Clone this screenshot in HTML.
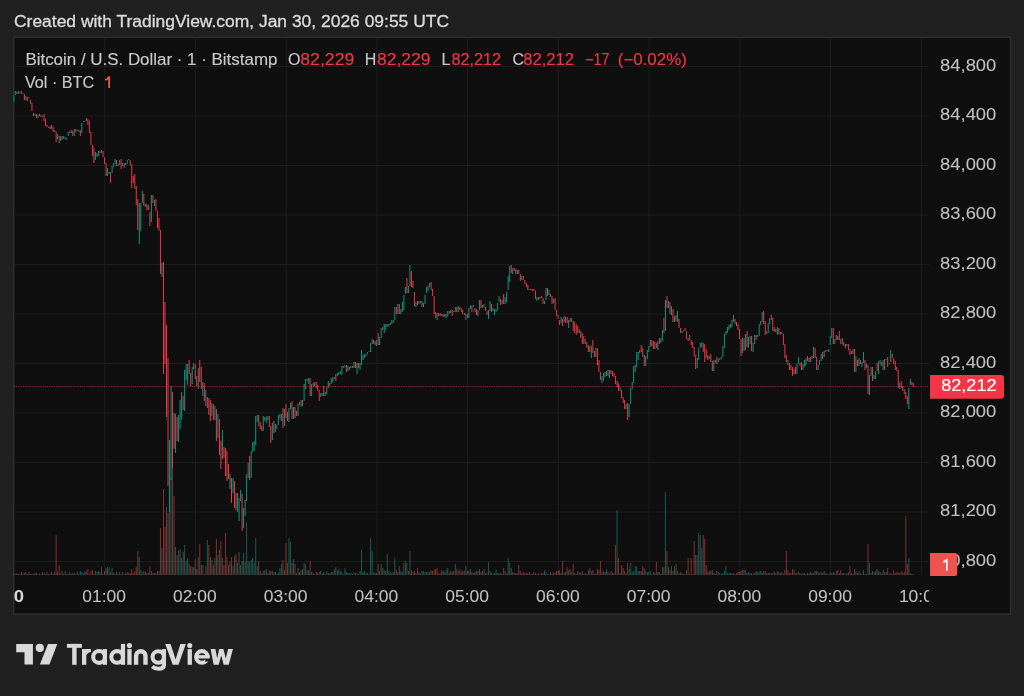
<!DOCTYPE html><html><head><meta charset="utf-8"><style>html,body{margin:0;padding:0;background:#202020;width:1024px;height:696px;overflow:hidden}svg{display:block;will-change:transform}</style></head><body><svg width="1024" height="696" viewBox="0 0 1024 696"><rect x="0" y="0" width="1024" height="696" fill="#202020"/><rect x="13.75" y="37.3" width="996.8" height="576.8" fill="#0f0f0f" stroke="#2e2e2e" stroke-width="1.5"/><defs><clipPath id="pane"><rect x="13.2" y="38" width="915.8" height="537"/></clipPath><clipPath id="taxis"><rect x="14" y="575" width="915" height="38"/></clipPath></defs><g stroke="#1d1d1d" stroke-width="1"><line x1="14" x2="929" y1="66.5" y2="66.5"/><line x1="14" x2="929" y1="116.0" y2="116.0"/><line x1="14" x2="929" y1="165.5" y2="165.5"/><line x1="14" x2="929" y1="215.0" y2="215.0"/><line x1="14" x2="929" y1="264.5" y2="264.5"/><line x1="14" x2="929" y1="314.0" y2="314.0"/><line x1="14" x2="929" y1="363.5" y2="363.5"/><line x1="14" x2="929" y1="413.0" y2="413.0"/><line x1="14" x2="929" y1="462.5" y2="462.5"/><line x1="14" x2="929" y1="512.0" y2="512.0"/><line x1="14" x2="929" y1="561.5" y2="561.5"/><line x1="104.7" x2="104.7" y1="38" y2="575"/><line x1="195.43" x2="195.43" y1="38" y2="575"/><line x1="286.16" x2="286.16" y1="38" y2="575"/><line x1="376.89" x2="376.89" y1="38" y2="575"/><line x1="467.62" x2="467.62" y1="38" y2="575"/><line x1="558.35" x2="558.35" y1="38" y2="575"/><line x1="649.08" x2="649.08" y1="38" y2="575"/><line x1="739.81" x2="739.81" y1="38" y2="575"/><line x1="830.54" x2="830.54" y1="38" y2="575"/><line x1="921.27" x2="921.27" y1="38" y2="575"/></g><g clip-path="url(#pane)"><g fill="rgba(38,166,154,0.5)"><rect x="13.3" y="573" width="1" height="2"/><rect x="14.81" y="574" width="1" height="1"/><rect x="17.84" y="574" width="1" height="1"/><rect x="19.35" y="574" width="1" height="1"/><rect x="22.37" y="574" width="1" height="1"/><rect x="26.91" y="574" width="1" height="1"/><rect x="34.47" y="573" width="1" height="2"/><rect x="37.49" y="574" width="1" height="1"/><rect x="42.03" y="572" width="1" height="3"/><rect x="48.07" y="574" width="1" height="1"/><rect x="54.12" y="572" width="1" height="3"/><rect x="61.68" y="571" width="1" height="4"/><rect x="63.19" y="574" width="1" height="1"/><rect x="66.22" y="574" width="1" height="1"/><rect x="67.73" y="574" width="1" height="1"/><rect x="69.24" y="572" width="1" height="3"/><rect x="73.78" y="573" width="1" height="2"/><rect x="75.29" y="574" width="1" height="1"/><rect x="79.82" y="571" width="1" height="4"/><rect x="81.34" y="572" width="1" height="3"/><rect x="82.85" y="573" width="1" height="2"/><rect x="84.36" y="571" width="1" height="4"/><rect x="94.94" y="571" width="1" height="4"/><rect x="96.45" y="572" width="1" height="3"/><rect x="97.97" y="571" width="1" height="4"/><rect x="100.99" y="567" width="1" height="8"/><rect x="107.04" y="567" width="1" height="8"/><rect x="108.55" y="567" width="1" height="8"/><rect x="111.57" y="568" width="1" height="7"/><rect x="113.09" y="573" width="1" height="2"/><rect x="114.6" y="574" width="1" height="1"/><rect x="117.62" y="574" width="1" height="1"/><rect x="119.13" y="572" width="1" height="3"/><rect x="123.67" y="574" width="1" height="1"/><rect x="126.69" y="572" width="1" height="3"/><rect x="138.79" y="557" width="1" height="18"/><rect x="140.3" y="570" width="1" height="5"/><rect x="141.81" y="572" width="1" height="3"/><rect x="144.84" y="572" width="1" height="3"/><rect x="150.88" y="571" width="1" height="4"/><rect x="153.91" y="573" width="1" height="2"/><rect x="161.47" y="548" width="1" height="27"/><rect x="169.03" y="500" width="1" height="75"/><rect x="170.54" y="477" width="1" height="98"/><rect x="175.07" y="547" width="1" height="28"/><rect x="178.1" y="551" width="1" height="24"/><rect x="179.61" y="549" width="1" height="26"/><rect x="181.12" y="558" width="1" height="17"/><rect x="184.14" y="545" width="1" height="30"/><rect x="185.66" y="561" width="1" height="14"/><rect x="187.17" y="558" width="1" height="17"/><rect x="191.7" y="567" width="1" height="8"/><rect x="193.22" y="567" width="1" height="8"/><rect x="197.75" y="557" width="1" height="18"/><rect x="202.29" y="565" width="1" height="10"/><rect x="206.82" y="540" width="1" height="35"/><rect x="211.36" y="560" width="1" height="15"/><rect x="214.38" y="558" width="1" height="17"/><rect x="217.41" y="555" width="1" height="20"/><rect x="221.94" y="558" width="1" height="17"/><rect x="229.5" y="562" width="1" height="13"/><rect x="232.53" y="566" width="1" height="9"/><rect x="237.06" y="563" width="1" height="12"/><rect x="238.57" y="552" width="1" height="23"/><rect x="240.09" y="565" width="1" height="10"/><rect x="243.11" y="553" width="1" height="22"/><rect x="244.62" y="562" width="1" height="13"/><rect x="246.13" y="522" width="1" height="53"/><rect x="247.64" y="561" width="1" height="14"/><rect x="250.67" y="560" width="1" height="15"/><rect x="252.18" y="558" width="1" height="17"/><rect x="253.69" y="563" width="1" height="12"/><rect x="255.2" y="538" width="1" height="37"/><rect x="256.72" y="566" width="1" height="9"/><rect x="262.76" y="571" width="1" height="4"/><rect x="264.28" y="570" width="1" height="5"/><rect x="265.79" y="569" width="1" height="6"/><rect x="267.3" y="573" width="1" height="2"/><rect x="271.83" y="571" width="1" height="4"/><rect x="274.86" y="572" width="1" height="3"/><rect x="276.37" y="574" width="1" height="1"/><rect x="277.88" y="573" width="1" height="2"/><rect x="279.39" y="568" width="1" height="7"/><rect x="280.91" y="564" width="1" height="11"/><rect x="283.93" y="570" width="1" height="5"/><rect x="288.47" y="538" width="1" height="37"/><rect x="289.98" y="542" width="1" height="33"/><rect x="293.0" y="559" width="1" height="16"/><rect x="297.54" y="568" width="1" height="7"/><rect x="300.56" y="570" width="1" height="5"/><rect x="303.58" y="563" width="1" height="12"/><rect x="305.1" y="564" width="1" height="11"/><rect x="308.12" y="570" width="1" height="5"/><rect x="311.14" y="572" width="1" height="3"/><rect x="312.66" y="573" width="1" height="2"/><rect x="320.22" y="571" width="1" height="4"/><rect x="321.73" y="573" width="1" height="2"/><rect x="324.75" y="574" width="1" height="1"/><rect x="326.26" y="571" width="1" height="4"/><rect x="327.78" y="573" width="1" height="2"/><rect x="330.8" y="572" width="1" height="3"/><rect x="332.31" y="572" width="1" height="3"/><rect x="333.82" y="569" width="1" height="6"/><rect x="336.85" y="571" width="1" height="4"/><rect x="338.36" y="569" width="1" height="6"/><rect x="339.87" y="571" width="1" height="4"/><rect x="341.38" y="572" width="1" height="3"/><rect x="342.89" y="574" width="1" height="1"/><rect x="344.41" y="568" width="1" height="7"/><rect x="345.92" y="572" width="1" height="3"/><rect x="348.94" y="573" width="1" height="2"/><rect x="350.45" y="573" width="1" height="2"/><rect x="353.48" y="572" width="1" height="3"/><rect x="356.5" y="573" width="1" height="2"/><rect x="359.53" y="571" width="1" height="4"/><rect x="361.04" y="550" width="1" height="25"/><rect x="362.55" y="572" width="1" height="3"/><rect x="364.06" y="571" width="1" height="4"/><rect x="365.57" y="573" width="1" height="2"/><rect x="367.08" y="573" width="1" height="2"/><rect x="368.6" y="574" width="1" height="1"/><rect x="370.11" y="538" width="1" height="37"/><rect x="371.62" y="551" width="1" height="24"/><rect x="373.13" y="572" width="1" height="3"/><rect x="376.16" y="573" width="1" height="2"/><rect x="379.18" y="571" width="1" height="4"/><rect x="380.69" y="564" width="1" height="11"/><rect x="383.72" y="570" width="1" height="5"/><rect x="385.23" y="571" width="1" height="4"/><rect x="386.74" y="554" width="1" height="21"/><rect x="388.25" y="571" width="1" height="4"/><rect x="391.28" y="573" width="1" height="2"/><rect x="392.79" y="572" width="1" height="3"/><rect x="394.3" y="558" width="1" height="17"/><rect x="397.32" y="572" width="1" height="3"/><rect x="400.35" y="571" width="1" height="4"/><rect x="401.86" y="572" width="1" height="3"/><rect x="403.37" y="563" width="1" height="12"/><rect x="404.88" y="561" width="1" height="14"/><rect x="407.91" y="571" width="1" height="4"/><rect x="409.42" y="551" width="1" height="24"/><rect x="415.47" y="573" width="1" height="2"/><rect x="418.49" y="572" width="1" height="3"/><rect x="420.0" y="573" width="1" height="2"/><rect x="423.02" y="571" width="1" height="4"/><rect x="424.54" y="572" width="1" height="3"/><rect x="426.05" y="572" width="1" height="3"/><rect x="427.56" y="572" width="1" height="3"/><rect x="429.07" y="572" width="1" height="3"/><rect x="438.14" y="573" width="1" height="2"/><rect x="444.19" y="572" width="1" height="3"/><rect x="445.7" y="570" width="1" height="5"/><rect x="447.22" y="568" width="1" height="7"/><rect x="450.24" y="571" width="1" height="4"/><rect x="454.77" y="564" width="1" height="11"/><rect x="457.8" y="571" width="1" height="4"/><rect x="465.36" y="566" width="1" height="9"/><rect x="468.38" y="571" width="1" height="4"/><rect x="469.89" y="569" width="1" height="6"/><rect x="472.92" y="573" width="1" height="2"/><rect x="475.94" y="571" width="1" height="4"/><rect x="478.97" y="569" width="1" height="6"/><rect x="483.5" y="569" width="1" height="6"/><rect x="488.04" y="562" width="1" height="13"/><rect x="489.55" y="571" width="1" height="4"/><rect x="492.57" y="574" width="1" height="1"/><rect x="494.08" y="573" width="1" height="2"/><rect x="495.6" y="570" width="1" height="5"/><rect x="497.11" y="573" width="1" height="2"/><rect x="498.62" y="573" width="1" height="2"/><rect x="501.64" y="574" width="1" height="1"/><rect x="504.67" y="571" width="1" height="4"/><rect x="506.18" y="573" width="1" height="2"/><rect x="507.69" y="558" width="1" height="17"/><rect x="509.2" y="563" width="1" height="12"/><rect x="512.23" y="572" width="1" height="3"/><rect x="516.76" y="573" width="1" height="2"/><rect x="521.3" y="573" width="1" height="2"/><rect x="528.86" y="572" width="1" height="3"/><rect x="536.42" y="574" width="1" height="1"/><rect x="537.93" y="573" width="1" height="2"/><rect x="543.98" y="570" width="1" height="5"/><rect x="545.49" y="572" width="1" height="3"/><rect x="548.51" y="574" width="1" height="1"/><rect x="553.05" y="572" width="1" height="3"/><rect x="560.61" y="573" width="1" height="2"/><rect x="563.63" y="573" width="1" height="2"/><rect x="568.17" y="570" width="1" height="5"/><rect x="571.19" y="572" width="1" height="3"/><rect x="578.75" y="572" width="1" height="3"/><rect x="583.29" y="574" width="1" height="1"/><rect x="584.8" y="573" width="1" height="2"/><rect x="586.31" y="574" width="1" height="1"/><rect x="590.85" y="571" width="1" height="4"/><rect x="595.38" y="573" width="1" height="2"/><rect x="601.43" y="572" width="1" height="3"/><rect x="604.45" y="572" width="1" height="3"/><rect x="605.96" y="569" width="1" height="6"/><rect x="608.99" y="574" width="1" height="1"/><rect x="616.55" y="510" width="1" height="65"/><rect x="619.57" y="573" width="1" height="2"/><rect x="625.62" y="573" width="1" height="2"/><rect x="628.64" y="569" width="1" height="6"/><rect x="630.16" y="563" width="1" height="12"/><rect x="631.67" y="572" width="1" height="3"/><rect x="633.18" y="571" width="1" height="4"/><rect x="634.69" y="566" width="1" height="9"/><rect x="636.2" y="567" width="1" height="8"/><rect x="637.71" y="571" width="1" height="4"/><rect x="639.23" y="571" width="1" height="4"/><rect x="645.27" y="571" width="1" height="4"/><rect x="646.79" y="572" width="1" height="3"/><rect x="648.3" y="572" width="1" height="3"/><rect x="649.81" y="571" width="1" height="4"/><rect x="651.32" y="574" width="1" height="1"/><rect x="657.37" y="572" width="1" height="3"/><rect x="660.39" y="574" width="1" height="1"/><rect x="661.91" y="567" width="1" height="8"/><rect x="664.93" y="492" width="1" height="83"/><rect x="667.95" y="567" width="1" height="8"/><rect x="670.98" y="566" width="1" height="9"/><rect x="674.0" y="566" width="1" height="9"/><rect x="677.02" y="571" width="1" height="4"/><rect x="681.56" y="573" width="1" height="2"/><rect x="683.07" y="574" width="1" height="1"/><rect x="689.12" y="574" width="1" height="1"/><rect x="692.14" y="574" width="1" height="1"/><rect x="696.68" y="555" width="1" height="20"/><rect x="698.19" y="533" width="1" height="42"/><rect x="699.7" y="535" width="1" height="40"/><rect x="701.21" y="548" width="1" height="27"/><rect x="708.77" y="571" width="1" height="4"/><rect x="713.31" y="573" width="1" height="2"/><rect x="717.85" y="572" width="1" height="3"/><rect x="719.36" y="573" width="1" height="2"/><rect x="720.87" y="574" width="1" height="1"/><rect x="722.38" y="573" width="1" height="2"/><rect x="723.89" y="571" width="1" height="4"/><rect x="725.4" y="566" width="1" height="9"/><rect x="726.92" y="573" width="1" height="2"/><rect x="728.43" y="573" width="1" height="2"/><rect x="729.94" y="573" width="1" height="2"/><rect x="731.45" y="573" width="1" height="2"/><rect x="742.04" y="570" width="1" height="5"/><rect x="745.06" y="570" width="1" height="5"/><rect x="746.57" y="573" width="1" height="2"/><rect x="748.08" y="572" width="1" height="3"/><rect x="749.6" y="573" width="1" height="2"/><rect x="752.62" y="574" width="1" height="1"/><rect x="754.13" y="573" width="1" height="2"/><rect x="757.15" y="572" width="1" height="3"/><rect x="758.67" y="572" width="1" height="3"/><rect x="760.18" y="571" width="1" height="4"/><rect x="761.69" y="573" width="1" height="2"/><rect x="766.23" y="573" width="1" height="2"/><rect x="767.74" y="573" width="1" height="2"/><rect x="770.76" y="573" width="1" height="2"/><rect x="775.3" y="573" width="1" height="2"/><rect x="776.81" y="571" width="1" height="4"/><rect x="779.83" y="573" width="1" height="2"/><rect x="787.39" y="570" width="1" height="5"/><rect x="796.46" y="573" width="1" height="2"/><rect x="797.98" y="572" width="1" height="3"/><rect x="802.51" y="573" width="1" height="2"/><rect x="804.02" y="573" width="1" height="2"/><rect x="805.54" y="574" width="1" height="1"/><rect x="807.05" y="573" width="1" height="2"/><rect x="810.07" y="572" width="1" height="3"/><rect x="813.1" y="573" width="1" height="2"/><rect x="817.63" y="572" width="1" height="3"/><rect x="819.14" y="573" width="1" height="2"/><rect x="820.65" y="572" width="1" height="3"/><rect x="823.68" y="571" width="1" height="4"/><rect x="828.21" y="574" width="1" height="1"/><rect x="829.73" y="572" width="1" height="3"/><rect x="831.24" y="573" width="1" height="2"/><rect x="834.26" y="573" width="1" height="2"/><rect x="835.77" y="571" width="1" height="4"/><rect x="844.84" y="574" width="1" height="1"/><rect x="846.36" y="573" width="1" height="2"/><rect x="852.4" y="574" width="1" height="1"/><rect x="855.43" y="571" width="1" height="4"/><rect x="858.45" y="571" width="1" height="4"/><rect x="861.48" y="574" width="1" height="1"/><rect x="862.99" y="570" width="1" height="5"/><rect x="866.01" y="574" width="1" height="1"/><rect x="869.04" y="563" width="1" height="12"/><rect x="870.55" y="573" width="1" height="2"/><rect x="873.57" y="572" width="1" height="3"/><rect x="875.08" y="571" width="1" height="4"/><rect x="878.11" y="571" width="1" height="4"/><rect x="879.62" y="572" width="1" height="3"/><rect x="881.13" y="574" width="1" height="1"/><rect x="884.15" y="572" width="1" height="3"/><rect x="885.67" y="572" width="1" height="3"/><rect x="888.69" y="574" width="1" height="1"/><rect x="890.2" y="573" width="1" height="2"/><rect x="899.27" y="573" width="1" height="2"/><rect x="908.34" y="558" width="1" height="17"/><rect x="909.86" y="573" width="1" height="2"/></g><g fill="rgba(239,83,80,0.5)"><rect x="16.32" y="573" width="1" height="2"/><rect x="20.86" y="572" width="1" height="3"/><rect x="23.88" y="573" width="1" height="2"/><rect x="25.4" y="572" width="1" height="3"/><rect x="28.42" y="572" width="1" height="3"/><rect x="29.93" y="574" width="1" height="1"/><rect x="31.44" y="574" width="1" height="1"/><rect x="32.95" y="574" width="1" height="1"/><rect x="35.98" y="573" width="1" height="2"/><rect x="39.0" y="574" width="1" height="1"/><rect x="40.51" y="574" width="1" height="1"/><rect x="43.54" y="573" width="1" height="2"/><rect x="45.05" y="574" width="1" height="1"/><rect x="46.56" y="572" width="1" height="3"/><rect x="49.59" y="574" width="1" height="1"/><rect x="51.1" y="572" width="1" height="3"/><rect x="52.61" y="574" width="1" height="1"/><rect x="55.63" y="535" width="1" height="40"/><rect x="57.15" y="572" width="1" height="3"/><rect x="58.66" y="565" width="1" height="10"/><rect x="60.17" y="573" width="1" height="2"/><rect x="64.7" y="571" width="1" height="4"/><rect x="70.75" y="574" width="1" height="1"/><rect x="72.26" y="573" width="1" height="2"/><rect x="76.8" y="572" width="1" height="3"/><rect x="78.31" y="574" width="1" height="1"/><rect x="85.87" y="572" width="1" height="3"/><rect x="87.38" y="569" width="1" height="6"/><rect x="88.89" y="574" width="1" height="1"/><rect x="90.41" y="571" width="1" height="4"/><rect x="91.92" y="570" width="1" height="5"/><rect x="93.43" y="574" width="1" height="1"/><rect x="99.48" y="572" width="1" height="3"/><rect x="102.5" y="574" width="1" height="1"/><rect x="104.01" y="571" width="1" height="4"/><rect x="105.53" y="568" width="1" height="7"/><rect x="110.06" y="572" width="1" height="3"/><rect x="116.11" y="572" width="1" height="3"/><rect x="120.64" y="574" width="1" height="1"/><rect x="122.16" y="572" width="1" height="3"/><rect x="125.18" y="573" width="1" height="2"/><rect x="128.2" y="573" width="1" height="2"/><rect x="129.72" y="573" width="1" height="2"/><rect x="131.23" y="569" width="1" height="6"/><rect x="132.74" y="573" width="1" height="2"/><rect x="134.25" y="571" width="1" height="4"/><rect x="135.76" y="567" width="1" height="8"/><rect x="137.28" y="551" width="1" height="24"/><rect x="143.32" y="571" width="1" height="4"/><rect x="146.35" y="573" width="1" height="2"/><rect x="147.86" y="573" width="1" height="2"/><rect x="149.37" y="566" width="1" height="9"/><rect x="152.39" y="573" width="1" height="2"/><rect x="155.42" y="573" width="1" height="2"/><rect x="156.93" y="571" width="1" height="4"/><rect x="158.44" y="571" width="1" height="4"/><rect x="159.95" y="528" width="1" height="47"/><rect x="162.98" y="489" width="1" height="86"/><rect x="164.49" y="527" width="1" height="48"/><rect x="166.0" y="507" width="1" height="68"/><rect x="167.51" y="513" width="1" height="62"/><rect x="172.05" y="468" width="1" height="107"/><rect x="173.56" y="496" width="1" height="79"/><rect x="176.59" y="555" width="1" height="20"/><rect x="182.63" y="552" width="1" height="23"/><rect x="188.68" y="564" width="1" height="11"/><rect x="190.19" y="566" width="1" height="9"/><rect x="194.73" y="559" width="1" height="16"/><rect x="196.24" y="569" width="1" height="6"/><rect x="199.26" y="544" width="1" height="31"/><rect x="200.78" y="565" width="1" height="10"/><rect x="203.8" y="574" width="1" height="1"/><rect x="205.31" y="566" width="1" height="9"/><rect x="208.34" y="545" width="1" height="30"/><rect x="209.85" y="557" width="1" height="18"/><rect x="212.87" y="565" width="1" height="10"/><rect x="215.89" y="539" width="1" height="36"/><rect x="218.92" y="550" width="1" height="25"/><rect x="220.43" y="541" width="1" height="34"/><rect x="223.45" y="565" width="1" height="10"/><rect x="224.97" y="533" width="1" height="42"/><rect x="226.48" y="557" width="1" height="18"/><rect x="227.99" y="565" width="1" height="10"/><rect x="231.01" y="557" width="1" height="18"/><rect x="234.04" y="556" width="1" height="19"/><rect x="235.55" y="554" width="1" height="21"/><rect x="241.6" y="561" width="1" height="14"/><rect x="249.16" y="562" width="1" height="13"/><rect x="258.23" y="561" width="1" height="14"/><rect x="259.74" y="571" width="1" height="4"/><rect x="261.25" y="573" width="1" height="2"/><rect x="268.81" y="570" width="1" height="5"/><rect x="270.32" y="571" width="1" height="4"/><rect x="273.35" y="572" width="1" height="3"/><rect x="282.42" y="560" width="1" height="15"/><rect x="285.44" y="543" width="1" height="32"/><rect x="286.95" y="563" width="1" height="12"/><rect x="291.49" y="563" width="1" height="12"/><rect x="294.51" y="564" width="1" height="11"/><rect x="296.03" y="573" width="1" height="2"/><rect x="299.05" y="572" width="1" height="3"/><rect x="302.07" y="569" width="1" height="6"/><rect x="306.61" y="570" width="1" height="5"/><rect x="309.63" y="561" width="1" height="14"/><rect x="314.17" y="574" width="1" height="1"/><rect x="315.68" y="572" width="1" height="3"/><rect x="317.19" y="573" width="1" height="2"/><rect x="318.7" y="572" width="1" height="3"/><rect x="323.24" y="572" width="1" height="3"/><rect x="329.29" y="573" width="1" height="2"/><rect x="335.33" y="567" width="1" height="8"/><rect x="347.43" y="573" width="1" height="2"/><rect x="351.97" y="574" width="1" height="1"/><rect x="354.99" y="573" width="1" height="2"/><rect x="358.01" y="574" width="1" height="1"/><rect x="374.64" y="573" width="1" height="2"/><rect x="377.67" y="564" width="1" height="11"/><rect x="382.2" y="568" width="1" height="7"/><rect x="389.76" y="572" width="1" height="3"/><rect x="395.81" y="570" width="1" height="5"/><rect x="398.83" y="566" width="1" height="9"/><rect x="406.39" y="563" width="1" height="12"/><rect x="410.93" y="570" width="1" height="5"/><rect x="412.44" y="572" width="1" height="3"/><rect x="413.95" y="571" width="1" height="4"/><rect x="416.98" y="568" width="1" height="7"/><rect x="421.51" y="571" width="1" height="4"/><rect x="430.58" y="570" width="1" height="5"/><rect x="432.1" y="571" width="1" height="4"/><rect x="433.61" y="570" width="1" height="5"/><rect x="435.12" y="569" width="1" height="6"/><rect x="436.63" y="568" width="1" height="7"/><rect x="439.66" y="573" width="1" height="2"/><rect x="441.17" y="570" width="1" height="5"/><rect x="442.68" y="571" width="1" height="4"/><rect x="448.73" y="573" width="1" height="2"/><rect x="451.75" y="572" width="1" height="3"/><rect x="453.26" y="571" width="1" height="4"/><rect x="456.29" y="569" width="1" height="6"/><rect x="459.31" y="569" width="1" height="6"/><rect x="460.82" y="572" width="1" height="3"/><rect x="462.33" y="571" width="1" height="4"/><rect x="463.85" y="571" width="1" height="4"/><rect x="466.87" y="571" width="1" height="4"/><rect x="471.41" y="572" width="1" height="3"/><rect x="474.43" y="572" width="1" height="3"/><rect x="477.45" y="571" width="1" height="4"/><rect x="480.48" y="572" width="1" height="3"/><rect x="481.99" y="571" width="1" height="4"/><rect x="485.01" y="573" width="1" height="2"/><rect x="486.52" y="573" width="1" height="2"/><rect x="491.06" y="573" width="1" height="2"/><rect x="500.13" y="573" width="1" height="2"/><rect x="503.16" y="568" width="1" height="7"/><rect x="510.72" y="568" width="1" height="7"/><rect x="513.74" y="573" width="1" height="2"/><rect x="515.25" y="573" width="1" height="2"/><rect x="518.27" y="565" width="1" height="10"/><rect x="519.79" y="571" width="1" height="4"/><rect x="522.81" y="572" width="1" height="3"/><rect x="524.32" y="573" width="1" height="2"/><rect x="525.83" y="573" width="1" height="2"/><rect x="527.35" y="573" width="1" height="2"/><rect x="530.37" y="574" width="1" height="1"/><rect x="531.88" y="574" width="1" height="1"/><rect x="533.39" y="572" width="1" height="3"/><rect x="534.91" y="573" width="1" height="2"/><rect x="539.44" y="574" width="1" height="1"/><rect x="540.95" y="573" width="1" height="2"/><rect x="542.46" y="573" width="1" height="2"/><rect x="547.0" y="574" width="1" height="1"/><rect x="550.02" y="572" width="1" height="3"/><rect x="551.54" y="574" width="1" height="1"/><rect x="554.56" y="573" width="1" height="2"/><rect x="556.07" y="571" width="1" height="4"/><rect x="557.58" y="571" width="1" height="4"/><rect x="559.1" y="570" width="1" height="5"/><rect x="562.12" y="561" width="1" height="14"/><rect x="565.14" y="572" width="1" height="3"/><rect x="566.66" y="567" width="1" height="8"/><rect x="569.68" y="569" width="1" height="6"/><rect x="572.7" y="564" width="1" height="11"/><rect x="574.21" y="573" width="1" height="2"/><rect x="575.73" y="574" width="1" height="1"/><rect x="577.24" y="571" width="1" height="4"/><rect x="580.26" y="573" width="1" height="2"/><rect x="581.77" y="571" width="1" height="4"/><rect x="587.82" y="570" width="1" height="5"/><rect x="589.33" y="568" width="1" height="7"/><rect x="592.36" y="570" width="1" height="5"/><rect x="593.87" y="574" width="1" height="1"/><rect x="596.89" y="569" width="1" height="6"/><rect x="598.41" y="570" width="1" height="5"/><rect x="599.92" y="561" width="1" height="14"/><rect x="602.94" y="571" width="1" height="4"/><rect x="607.48" y="572" width="1" height="3"/><rect x="610.5" y="571" width="1" height="4"/><rect x="612.01" y="573" width="1" height="2"/><rect x="613.52" y="573" width="1" height="2"/><rect x="615.04" y="545" width="1" height="30"/><rect x="618.06" y="558" width="1" height="17"/><rect x="621.08" y="565" width="1" height="10"/><rect x="622.6" y="568" width="1" height="7"/><rect x="624.11" y="571" width="1" height="4"/><rect x="627.13" y="563" width="1" height="12"/><rect x="640.74" y="571" width="1" height="4"/><rect x="642.25" y="566" width="1" height="9"/><rect x="643.76" y="568" width="1" height="7"/><rect x="652.83" y="572" width="1" height="3"/><rect x="654.35" y="573" width="1" height="2"/><rect x="655.86" y="562" width="1" height="13"/><rect x="658.88" y="572" width="1" height="3"/><rect x="663.42" y="567" width="1" height="8"/><rect x="666.44" y="551" width="1" height="24"/><rect x="669.46" y="570" width="1" height="5"/><rect x="672.49" y="571" width="1" height="4"/><rect x="675.51" y="564" width="1" height="11"/><rect x="678.54" y="573" width="1" height="2"/><rect x="680.05" y="572" width="1" height="3"/><rect x="684.58" y="574" width="1" height="1"/><rect x="686.1" y="570" width="1" height="5"/><rect x="687.61" y="558" width="1" height="17"/><rect x="690.63" y="558" width="1" height="17"/><rect x="693.65" y="541" width="1" height="34"/><rect x="695.17" y="555" width="1" height="20"/><rect x="702.73" y="535" width="1" height="40"/><rect x="704.24" y="539" width="1" height="36"/><rect x="705.75" y="565" width="1" height="10"/><rect x="707.26" y="572" width="1" height="3"/><rect x="710.29" y="571" width="1" height="4"/><rect x="711.8" y="570" width="1" height="5"/><rect x="714.82" y="574" width="1" height="1"/><rect x="716.33" y="571" width="1" height="4"/><rect x="732.96" y="573" width="1" height="2"/><rect x="734.48" y="574" width="1" height="1"/><rect x="735.99" y="573" width="1" height="2"/><rect x="737.5" y="572" width="1" height="3"/><rect x="739.01" y="572" width="1" height="3"/><rect x="740.52" y="571" width="1" height="4"/><rect x="743.55" y="570" width="1" height="5"/><rect x="751.11" y="573" width="1" height="2"/><rect x="755.64" y="571" width="1" height="4"/><rect x="763.2" y="571" width="1" height="4"/><rect x="764.71" y="571" width="1" height="4"/><rect x="769.25" y="573" width="1" height="2"/><rect x="772.27" y="573" width="1" height="2"/><rect x="773.79" y="572" width="1" height="3"/><rect x="778.32" y="572" width="1" height="3"/><rect x="781.35" y="572" width="1" height="3"/><rect x="782.86" y="574" width="1" height="1"/><rect x="784.37" y="570" width="1" height="5"/><rect x="785.88" y="551" width="1" height="24"/><rect x="788.9" y="573" width="1" height="2"/><rect x="790.42" y="573" width="1" height="2"/><rect x="791.93" y="569" width="1" height="6"/><rect x="793.44" y="570" width="1" height="5"/><rect x="794.95" y="573" width="1" height="2"/><rect x="799.49" y="573" width="1" height="2"/><rect x="801.0" y="574" width="1" height="1"/><rect x="808.56" y="573" width="1" height="2"/><rect x="811.58" y="573" width="1" height="2"/><rect x="814.61" y="571" width="1" height="4"/><rect x="816.12" y="571" width="1" height="4"/><rect x="822.17" y="573" width="1" height="2"/><rect x="825.19" y="573" width="1" height="2"/><rect x="826.7" y="574" width="1" height="1"/><rect x="832.75" y="572" width="1" height="3"/><rect x="837.29" y="570" width="1" height="5"/><rect x="838.8" y="573" width="1" height="2"/><rect x="840.31" y="570" width="1" height="5"/><rect x="841.82" y="573" width="1" height="2"/><rect x="843.33" y="573" width="1" height="2"/><rect x="847.87" y="572" width="1" height="3"/><rect x="849.38" y="566" width="1" height="9"/><rect x="850.89" y="573" width="1" height="2"/><rect x="853.92" y="569" width="1" height="6"/><rect x="856.94" y="573" width="1" height="2"/><rect x="859.96" y="573" width="1" height="2"/><rect x="864.5" y="574" width="1" height="1"/><rect x="867.52" y="544" width="1" height="31"/><rect x="872.06" y="571" width="1" height="4"/><rect x="876.59" y="569" width="1" height="6"/><rect x="882.64" y="570" width="1" height="5"/><rect x="887.18" y="568" width="1" height="7"/><rect x="891.71" y="574" width="1" height="1"/><rect x="893.23" y="570" width="1" height="5"/><rect x="894.74" y="573" width="1" height="2"/><rect x="896.25" y="572" width="1" height="3"/><rect x="897.76" y="572" width="1" height="3"/><rect x="900.79" y="571" width="1" height="4"/><rect x="902.3" y="573" width="1" height="2"/><rect x="903.81" y="572" width="1" height="3"/><rect x="905.32" y="516" width="1" height="59"/><rect x="906.83" y="564" width="1" height="11"/><rect x="911.37" y="574" width="1" height="1"/><rect x="912.88" y="574" width="1" height="1"/></g><g fill="#089981"><rect x="13.3" y="95" width="1" height="7"/><rect x="14.81" y="91" width="1" height="4"/><rect x="17.84" y="91" width="1" height="3"/><rect x="19.35" y="92" width="1" height="1"/><rect x="22.37" y="93" width="1" height="1"/><rect x="26.91" y="97" width="1" height="4"/><rect x="34.47" y="114" width="1" height="2"/><rect x="37.49" y="115" width="1" height="3"/><rect x="42.03" y="116" width="1" height="1"/><rect x="48.07" y="127" width="1" height="1"/><rect x="54.12" y="130" width="1" height="2"/><rect x="58.66" y="136" width="1" height="7"/><rect x="61.68" y="136" width="1" height="4"/><rect x="63.19" y="136" width="1" height="3"/><rect x="64.7" y="137" width="1" height="2"/><rect x="66.22" y="138" width="1" height="2"/><rect x="67.73" y="132" width="1" height="4"/><rect x="69.24" y="131" width="1" height="2"/><rect x="73.78" y="129" width="1" height="7"/><rect x="75.29" y="129" width="1" height="3"/><rect x="81.34" y="123" width="1" height="10"/><rect x="82.85" y="121" width="1" height="1"/><rect x="84.36" y="121" width="1" height="1"/><rect x="94.94" y="152" width="1" height="8"/><rect x="96.45" y="153" width="1" height="4"/><rect x="97.97" y="151" width="1" height="5"/><rect x="100.99" y="150" width="1" height="3"/><rect x="107.04" y="168" width="1" height="8"/><rect x="108.55" y="172" width="1" height="2"/><rect x="111.57" y="166" width="1" height="7"/><rect x="113.09" y="163" width="1" height="4"/><rect x="114.6" y="159" width="1" height="5"/><rect x="117.62" y="164" width="1" height="2"/><rect x="119.13" y="160" width="1" height="5"/><rect x="123.67" y="163" width="1" height="5"/><rect x="126.69" y="160" width="1" height="4"/><rect x="138.79" y="203" width="1" height="41"/><rect x="140.3" y="203" width="1" height="28"/><rect x="141.81" y="191" width="1" height="12"/><rect x="144.84" y="204" width="1" height="3"/><rect x="150.88" y="195" width="1" height="27"/><rect x="153.91" y="200" width="1" height="6"/><rect x="161.47" y="263" width="1" height="14"/><rect x="169.03" y="440" width="1" height="72"/><rect x="170.54" y="386" width="1" height="94"/><rect x="175.07" y="414" width="1" height="39"/><rect x="178.1" y="415" width="1" height="27"/><rect x="179.61" y="400" width="1" height="29"/><rect x="181.12" y="392" width="1" height="28"/><rect x="184.14" y="370" width="1" height="41"/><rect x="185.66" y="364" width="1" height="16"/><rect x="187.17" y="364" width="1" height="21"/><rect x="191.7" y="367" width="1" height="17"/><rect x="193.22" y="363" width="1" height="6"/><rect x="197.75" y="368" width="1" height="21"/><rect x="202.29" y="382" width="1" height="14"/><rect x="205.31" y="390" width="1" height="16"/><rect x="211.36" y="403" width="1" height="13"/><rect x="214.38" y="406" width="1" height="14"/><rect x="217.41" y="414" width="1" height="24"/><rect x="221.94" y="430" width="1" height="29"/><rect x="229.5" y="474" width="1" height="15"/><rect x="232.53" y="478" width="1" height="15"/><rect x="237.06" y="493" width="1" height="19"/><rect x="238.57" y="498" width="1" height="23"/><rect x="240.09" y="490" width="1" height="11"/><rect x="243.11" y="508" width="1" height="20"/><rect x="244.62" y="500" width="1" height="16"/><rect x="246.13" y="474" width="1" height="27"/><rect x="247.64" y="463" width="1" height="15"/><rect x="250.67" y="451" width="1" height="27"/><rect x="252.18" y="442" width="1" height="10"/><rect x="253.69" y="441" width="1" height="10"/><rect x="255.2" y="416" width="1" height="29"/><rect x="256.72" y="415" width="1" height="7"/><rect x="262.76" y="416" width="1" height="15"/><rect x="264.28" y="417" width="1" height="4"/><rect x="265.79" y="417" width="1" height="6"/><rect x="267.3" y="416" width="1" height="4"/><rect x="271.83" y="423" width="1" height="17"/><rect x="274.86" y="424" width="1" height="8"/><rect x="276.37" y="425" width="1" height="4"/><rect x="277.88" y="415" width="1" height="10"/><rect x="279.39" y="414" width="1" height="4"/><rect x="280.91" y="414" width="1" height="7"/><rect x="283.93" y="409" width="1" height="17"/><rect x="288.47" y="408" width="1" height="14"/><rect x="289.98" y="403" width="1" height="6"/><rect x="293.0" y="407" width="1" height="12"/><rect x="297.54" y="404" width="1" height="12"/><rect x="300.56" y="400" width="1" height="7"/><rect x="303.58" y="384" width="1" height="17"/><rect x="305.1" y="379" width="1" height="10"/><rect x="306.61" y="379" width="1" height="2"/><rect x="308.12" y="378" width="1" height="6"/><rect x="311.14" y="384" width="1" height="12"/><rect x="312.66" y="383" width="1" height="4"/><rect x="320.22" y="393" width="1" height="4"/><rect x="321.73" y="393" width="1" height="3"/><rect x="324.75" y="392" width="1" height="4"/><rect x="326.26" y="387" width="1" height="7"/><rect x="327.78" y="381" width="1" height="7"/><rect x="330.8" y="378" width="1" height="6"/><rect x="332.31" y="377" width="1" height="5"/><rect x="333.82" y="377" width="1" height="2"/><rect x="336.85" y="373" width="1" height="3"/><rect x="338.36" y="372" width="1" height="3"/><rect x="339.87" y="371" width="1" height="3"/><rect x="341.38" y="366" width="1" height="9"/><rect x="342.89" y="366" width="1" height="2"/><rect x="344.41" y="365" width="1" height="2"/><rect x="347.43" y="366" width="1" height="5"/><rect x="348.94" y="367" width="1" height="3"/><rect x="350.45" y="366" width="1" height="2"/><rect x="353.48" y="362" width="1" height="6"/><rect x="356.5" y="363" width="1" height="11"/><rect x="359.53" y="363" width="1" height="7"/><rect x="361.04" y="350" width="1" height="15"/><rect x="362.55" y="355" width="1" height="5"/><rect x="364.06" y="354" width="1" height="4"/><rect x="365.57" y="354" width="1" height="2"/><rect x="367.08" y="352" width="1" height="2"/><rect x="368.6" y="351" width="1" height="1"/><rect x="370.11" y="343" width="1" height="9"/><rect x="371.62" y="339" width="1" height="5"/><rect x="376.16" y="340" width="1" height="6"/><rect x="379.18" y="337" width="1" height="8"/><rect x="380.69" y="328" width="1" height="10"/><rect x="383.72" y="324" width="1" height="9"/><rect x="385.23" y="324" width="1" height="6"/><rect x="386.74" y="324" width="1" height="3"/><rect x="388.25" y="324" width="1" height="2"/><rect x="391.28" y="320" width="1" height="4"/><rect x="392.79" y="320" width="1" height="3"/><rect x="394.3" y="307" width="1" height="13"/><rect x="397.32" y="304" width="1" height="10"/><rect x="400.35" y="309" width="1" height="5"/><rect x="401.86" y="302" width="1" height="10"/><rect x="403.37" y="295" width="1" height="15"/><rect x="404.88" y="287" width="1" height="7"/><rect x="407.91" y="286" width="1" height="7"/><rect x="409.42" y="265" width="1" height="21"/><rect x="415.47" y="302" width="1" height="5"/><rect x="418.49" y="301" width="1" height="3"/><rect x="420.0" y="301" width="1" height="2"/><rect x="423.02" y="303" width="1" height="4"/><rect x="424.54" y="295" width="1" height="9"/><rect x="426.05" y="287" width="1" height="6"/><rect x="427.56" y="286" width="1" height="5"/><rect x="429.07" y="283" width="1" height="4"/><rect x="436.63" y="313" width="1" height="7"/><rect x="444.19" y="314" width="1" height="3"/><rect x="445.7" y="314" width="1" height="4"/><rect x="447.22" y="311" width="1" height="5"/><rect x="450.24" y="310" width="1" height="3"/><rect x="453.26" y="311" width="1" height="1"/><rect x="454.77" y="307" width="1" height="5"/><rect x="457.8" y="306" width="1" height="6"/><rect x="465.36" y="314" width="1" height="6"/><rect x="468.38" y="308" width="1" height="10"/><rect x="469.89" y="305" width="1" height="4"/><rect x="472.92" y="305" width="1" height="2"/><rect x="477.45" y="310" width="1" height="6"/><rect x="478.97" y="300" width="1" height="10"/><rect x="483.5" y="304" width="1" height="3"/><rect x="488.04" y="310" width="1" height="9"/><rect x="489.55" y="301" width="1" height="10"/><rect x="492.57" y="308" width="1" height="3"/><rect x="494.08" y="309" width="1" height="6"/><rect x="495.6" y="309" width="1" height="3"/><rect x="497.11" y="303" width="1" height="7"/><rect x="498.62" y="296" width="1" height="6"/><rect x="501.64" y="300" width="1" height="4"/><rect x="504.67" y="297" width="1" height="7"/><rect x="506.18" y="292" width="1" height="10"/><rect x="507.69" y="276" width="1" height="14"/><rect x="509.2" y="266" width="1" height="16"/><rect x="512.23" y="268" width="1" height="6"/><rect x="516.76" y="270" width="1" height="4"/><rect x="521.3" y="276" width="1" height="4"/><rect x="528.86" y="289" width="1" height="1"/><rect x="536.42" y="297" width="1" height="4"/><rect x="537.93" y="297" width="1" height="3"/><rect x="543.98" y="301" width="1" height="3"/><rect x="545.49" y="288" width="1" height="12"/><rect x="548.51" y="290" width="1" height="5"/><rect x="553.05" y="299" width="1" height="4"/><rect x="560.61" y="317" width="1" height="6"/><rect x="563.63" y="316" width="1" height="6"/><rect x="568.17" y="320" width="1" height="8"/><rect x="571.19" y="318" width="1" height="4"/><rect x="578.75" y="329" width="1" height="4"/><rect x="584.8" y="339" width="1" height="5"/><rect x="590.85" y="346" width="1" height="12"/><rect x="595.38" y="348" width="1" height="9"/><rect x="601.43" y="376" width="1" height="7"/><rect x="602.94" y="373" width="1" height="8"/><rect x="604.45" y="372" width="1" height="5"/><rect x="605.96" y="371" width="1" height="5"/><rect x="608.99" y="370" width="1" height="8"/><rect x="619.57" y="387" width="1" height="4"/><rect x="625.62" y="404" width="1" height="5"/><rect x="628.64" y="404" width="1" height="13"/><rect x="630.16" y="388" width="1" height="16"/><rect x="631.67" y="382" width="1" height="7"/><rect x="633.18" y="366" width="1" height="17"/><rect x="634.69" y="365" width="1" height="7"/><rect x="636.2" y="352" width="1" height="15"/><rect x="637.71" y="352" width="1" height="8"/><rect x="639.23" y="350" width="1" height="3"/><rect x="645.27" y="356" width="1" height="10"/><rect x="646.79" y="350" width="1" height="9"/><rect x="648.3" y="346" width="1" height="6"/><rect x="649.81" y="340" width="1" height="7"/><rect x="657.37" y="341" width="1" height="9"/><rect x="660.39" y="338" width="1" height="5"/><rect x="661.91" y="330" width="1" height="11"/><rect x="664.93" y="300" width="1" height="31"/><rect x="667.95" y="301" width="1" height="7"/><rect x="670.98" y="306" width="1" height="9"/><rect x="674.0" y="316" width="1" height="6"/><rect x="677.02" y="311" width="1" height="11"/><rect x="681.56" y="331" width="1" height="2"/><rect x="683.07" y="330" width="1" height="1"/><rect x="689.12" y="335" width="1" height="5"/><rect x="696.68" y="358" width="1" height="10"/><rect x="698.19" y="348" width="1" height="12"/><rect x="699.7" y="343" width="1" height="5"/><rect x="701.21" y="342" width="1" height="5"/><rect x="708.77" y="356" width="1" height="3"/><rect x="713.31" y="360" width="1" height="11"/><rect x="714.82" y="360" width="1" height="3"/><rect x="717.85" y="359" width="1" height="3"/><rect x="719.36" y="358" width="1" height="2"/><rect x="720.87" y="357" width="1" height="2"/><rect x="722.38" y="346" width="1" height="11"/><rect x="723.89" y="334" width="1" height="14"/><rect x="725.4" y="331" width="1" height="4"/><rect x="726.92" y="327" width="1" height="6"/><rect x="728.43" y="325" width="1" height="5"/><rect x="729.94" y="324" width="1" height="4"/><rect x="731.45" y="320" width="1" height="7"/><rect x="732.96" y="315" width="1" height="7"/><rect x="742.04" y="338" width="1" height="15"/><rect x="745.06" y="334" width="1" height="16"/><rect x="748.08" y="337" width="1" height="11"/><rect x="749.6" y="336" width="1" height="8"/><rect x="752.62" y="343" width="1" height="9"/><rect x="754.13" y="335" width="1" height="9"/><rect x="757.15" y="335" width="1" height="2"/><rect x="758.67" y="324" width="1" height="12"/><rect x="760.18" y="321" width="1" height="4"/><rect x="761.69" y="312" width="1" height="10"/><rect x="766.23" y="331" width="1" height="3"/><rect x="767.74" y="323" width="1" height="10"/><rect x="769.25" y="318" width="1" height="6"/><rect x="775.3" y="329" width="1" height="3"/><rect x="776.81" y="327" width="1" height="8"/><rect x="779.83" y="332" width="1" height="3"/><rect x="787.39" y="360" width="1" height="5"/><rect x="796.46" y="364" width="1" height="10"/><rect x="797.98" y="357" width="1" height="7"/><rect x="802.51" y="364" width="1" height="6"/><rect x="804.02" y="360" width="1" height="7"/><rect x="805.54" y="358" width="1" height="7"/><rect x="810.07" y="357" width="1" height="5"/><rect x="813.1" y="347" width="1" height="11"/><rect x="817.63" y="365" width="1" height="5"/><rect x="819.14" y="360" width="1" height="5"/><rect x="820.65" y="354" width="1" height="7"/><rect x="823.68" y="351" width="1" height="6"/><rect x="826.7" y="350" width="1" height="1"/><rect x="828.21" y="349" width="1" height="3"/><rect x="829.73" y="336" width="1" height="9"/><rect x="831.24" y="328" width="1" height="10"/><rect x="834.26" y="339" width="1" height="5"/><rect x="835.77" y="335" width="1" height="5"/><rect x="841.82" y="338" width="1" height="6"/><rect x="846.36" y="344" width="1" height="2"/><rect x="852.4" y="349" width="1" height="5"/><rect x="855.43" y="356" width="1" height="16"/><rect x="858.45" y="358" width="1" height="8"/><rect x="861.48" y="362" width="1" height="5"/><rect x="862.99" y="352" width="1" height="11"/><rect x="866.01" y="364" width="1" height="4"/><rect x="869.04" y="375" width="1" height="20"/><rect x="870.55" y="367" width="1" height="9"/><rect x="873.57" y="375" width="1" height="4"/><rect x="875.08" y="371" width="1" height="8"/><rect x="878.11" y="361" width="1" height="13"/><rect x="879.62" y="360" width="1" height="4"/><rect x="881.13" y="362" width="1" height="4"/><rect x="884.15" y="359" width="1" height="11"/><rect x="885.67" y="359" width="1" height="1"/><rect x="888.69" y="363" width="1" height="1"/><rect x="890.2" y="350" width="1" height="12"/><rect x="899.27" y="383" width="1" height="6"/><rect x="908.34" y="388" width="1" height="21"/><rect x="909.86" y="379" width="1" height="6"/></g><g fill="#f23645"><rect x="16.32" y="92" width="1" height="2"/><rect x="20.86" y="91" width="1" height="3"/><rect x="23.88" y="94" width="1" height="6"/><rect x="25.4" y="96" width="1" height="4"/><rect x="28.42" y="97" width="1" height="1"/><rect x="29.93" y="100" width="1" height="4"/><rect x="31.44" y="103" width="1" height="8"/><rect x="32.95" y="113" width="1" height="3"/><rect x="35.98" y="114" width="1" height="4"/><rect x="39.0" y="114" width="1" height="2"/><rect x="40.51" y="115" width="1" height="2"/><rect x="43.54" y="114" width="1" height="7"/><rect x="45.05" y="119" width="1" height="7"/><rect x="46.56" y="125" width="1" height="2"/><rect x="49.59" y="126" width="1" height="3"/><rect x="51.1" y="125" width="1" height="4"/><rect x="52.61" y="127" width="1" height="5"/><rect x="55.63" y="132" width="1" height="10"/><rect x="57.15" y="134" width="1" height="5"/><rect x="60.17" y="136" width="1" height="5"/><rect x="70.75" y="130" width="1" height="3"/><rect x="72.26" y="131" width="1" height="5"/><rect x="76.8" y="130" width="1" height="1"/><rect x="78.31" y="130" width="1" height="2"/><rect x="79.82" y="130" width="1" height="6"/><rect x="85.87" y="118" width="1" height="3"/><rect x="87.38" y="119" width="1" height="6"/><rect x="88.89" y="121" width="1" height="12"/><rect x="90.41" y="132" width="1" height="13"/><rect x="91.92" y="145" width="1" height="11"/><rect x="93.43" y="148" width="1" height="15"/><rect x="99.48" y="151" width="1" height="2"/><rect x="102.5" y="151" width="1" height="6"/><rect x="104.01" y="157" width="1" height="7"/><rect x="105.53" y="163" width="1" height="13"/><rect x="110.06" y="172" width="1" height="11"/><rect x="116.11" y="160" width="1" height="6"/><rect x="120.64" y="159" width="1" height="10"/><rect x="122.16" y="163" width="1" height="3"/><rect x="125.18" y="163" width="1" height="2"/><rect x="128.2" y="159" width="1" height="1"/><rect x="129.72" y="160" width="1" height="5"/><rect x="131.23" y="164" width="1" height="24"/><rect x="132.74" y="176" width="1" height="7"/><rect x="134.25" y="174" width="1" height="15"/><rect x="135.76" y="186" width="1" height="19"/><rect x="137.28" y="199" width="1" height="31"/><rect x="143.32" y="194" width="1" height="12"/><rect x="146.35" y="204" width="1" height="6"/><rect x="147.86" y="205" width="1" height="5"/><rect x="149.37" y="212" width="1" height="14"/><rect x="152.39" y="195" width="1" height="8"/><rect x="155.42" y="199" width="1" height="12"/><rect x="156.93" y="211" width="1" height="17"/><rect x="158.44" y="218" width="1" height="13"/><rect x="159.95" y="230" width="1" height="44"/><rect x="162.98" y="262" width="1" height="112"/><rect x="164.49" y="302" width="1" height="62"/><rect x="166.0" y="325" width="1" height="92"/><rect x="167.51" y="358" width="1" height="128"/><rect x="172.05" y="392" width="1" height="76"/><rect x="173.56" y="413" width="1" height="36"/><rect x="176.59" y="417" width="1" height="24"/><rect x="182.63" y="396" width="1" height="14"/><rect x="188.68" y="360" width="1" height="14"/><rect x="190.19" y="373" width="1" height="13"/><rect x="194.73" y="364" width="1" height="15"/><rect x="196.24" y="376" width="1" height="10"/><rect x="199.26" y="360" width="1" height="22"/><rect x="200.78" y="367" width="1" height="22"/><rect x="203.8" y="383" width="1" height="18"/><rect x="206.82" y="397" width="1" height="11"/><rect x="208.34" y="398" width="1" height="17"/><rect x="209.85" y="400" width="1" height="21"/><rect x="212.87" y="404" width="1" height="16"/><rect x="215.89" y="409" width="1" height="32"/><rect x="218.92" y="419" width="1" height="36"/><rect x="220.43" y="441" width="1" height="28"/><rect x="223.45" y="447" width="1" height="11"/><rect x="224.97" y="448" width="1" height="28"/><rect x="226.48" y="451" width="1" height="30"/><rect x="227.99" y="464" width="1" height="15"/><rect x="231.01" y="478" width="1" height="25"/><rect x="234.04" y="481" width="1" height="27"/><rect x="235.55" y="493" width="1" height="17"/><rect x="241.6" y="494" width="1" height="37"/><rect x="249.16" y="456" width="1" height="24"/><rect x="258.23" y="415" width="1" height="11"/><rect x="259.74" y="422" width="1" height="7"/><rect x="261.25" y="426" width="1" height="5"/><rect x="268.81" y="416" width="1" height="11"/><rect x="270.32" y="426" width="1" height="17"/><rect x="273.35" y="421" width="1" height="12"/><rect x="282.42" y="408" width="1" height="20"/><rect x="285.44" y="404" width="1" height="14"/><rect x="286.95" y="412" width="1" height="9"/><rect x="291.49" y="401" width="1" height="18"/><rect x="294.51" y="407" width="1" height="11"/><rect x="296.03" y="411" width="1" height="5"/><rect x="299.05" y="402" width="1" height="3"/><rect x="302.07" y="400" width="1" height="6"/><rect x="309.63" y="378" width="1" height="18"/><rect x="314.17" y="382" width="1" height="4"/><rect x="315.68" y="382" width="1" height="6"/><rect x="317.19" y="385" width="1" height="6"/><rect x="318.7" y="390" width="1" height="11"/><rect x="323.24" y="386" width="1" height="10"/><rect x="329.29" y="383" width="1" height="3"/><rect x="335.33" y="374" width="1" height="7"/><rect x="345.92" y="365" width="1" height="7"/><rect x="351.97" y="366" width="1" height="2"/><rect x="354.99" y="362" width="1" height="6"/><rect x="358.01" y="363" width="1" height="5"/><rect x="373.13" y="340" width="1" height="4"/><rect x="374.64" y="341" width="1" height="4"/><rect x="377.67" y="333" width="1" height="12"/><rect x="382.2" y="327" width="1" height="3"/><rect x="389.76" y="323" width="1" height="2"/><rect x="395.81" y="307" width="1" height="7"/><rect x="398.83" y="304" width="1" height="10"/><rect x="406.39" y="278" width="1" height="15"/><rect x="410.93" y="271" width="1" height="16"/><rect x="412.44" y="281" width="1" height="7"/><rect x="413.95" y="292" width="1" height="14"/><rect x="416.98" y="301" width="1" height="4"/><rect x="421.51" y="301" width="1" height="6"/><rect x="430.58" y="282" width="1" height="8"/><rect x="432.1" y="289" width="1" height="7"/><rect x="433.61" y="296" width="1" height="18"/><rect x="435.12" y="312" width="1" height="6"/><rect x="438.14" y="313" width="1" height="3"/><rect x="439.66" y="313" width="1" height="3"/><rect x="441.17" y="314" width="1" height="2"/><rect x="442.68" y="314" width="1" height="3"/><rect x="448.73" y="311" width="1" height="3"/><rect x="451.75" y="310" width="1" height="6"/><rect x="456.29" y="307" width="1" height="5"/><rect x="459.31" y="307" width="1" height="3"/><rect x="460.82" y="308" width="1" height="4"/><rect x="462.33" y="310" width="1" height="4"/><rect x="463.85" y="313" width="1" height="2"/><rect x="466.87" y="314" width="1" height="4"/><rect x="471.41" y="306" width="1" height="6"/><rect x="474.43" y="308" width="1" height="4"/><rect x="475.94" y="309" width="1" height="6"/><rect x="480.48" y="300" width="1" height="8"/><rect x="481.99" y="305" width="1" height="3"/><rect x="485.01" y="307" width="1" height="4"/><rect x="486.52" y="311" width="1" height="4"/><rect x="491.06" y="304" width="1" height="8"/><rect x="500.13" y="299" width="1" height="6"/><rect x="503.16" y="294" width="1" height="10"/><rect x="510.72" y="265" width="1" height="8"/><rect x="513.74" y="268" width="1" height="3"/><rect x="515.25" y="269" width="1" height="5"/><rect x="518.27" y="270" width="1" height="4"/><rect x="519.79" y="274" width="1" height="7"/><rect x="522.81" y="276" width="1" height="4"/><rect x="524.32" y="280" width="1" height="4"/><rect x="525.83" y="283" width="1" height="4"/><rect x="527.35" y="285" width="1" height="5"/><rect x="530.37" y="289" width="1" height="1"/><rect x="531.88" y="289" width="1" height="2"/><rect x="533.39" y="289" width="1" height="2"/><rect x="534.91" y="291" width="1" height="8"/><rect x="539.44" y="297" width="1" height="2"/><rect x="540.95" y="296" width="1" height="2"/><rect x="542.46" y="298" width="1" height="6"/><rect x="547.0" y="288" width="1" height="8"/><rect x="550.02" y="294" width="1" height="3"/><rect x="551.54" y="296" width="1" height="8"/><rect x="554.56" y="298" width="1" height="12"/><rect x="556.07" y="310" width="1" height="6"/><rect x="557.58" y="315" width="1" height="4"/><rect x="559.1" y="320" width="1" height="5"/><rect x="562.12" y="319" width="1" height="7"/><rect x="565.14" y="317" width="1" height="6"/><rect x="566.66" y="317" width="1" height="6"/><rect x="569.68" y="318" width="1" height="4"/><rect x="572.7" y="321" width="1" height="10"/><rect x="574.21" y="322" width="1" height="11"/><rect x="575.73" y="324" width="1" height="11"/><rect x="577.24" y="326" width="1" height="7"/><rect x="580.26" y="331" width="1" height="7"/><rect x="581.77" y="333" width="1" height="11"/><rect x="583.29" y="336" width="1" height="8"/><rect x="586.31" y="342" width="1" height="6"/><rect x="587.82" y="345" width="1" height="7"/><rect x="589.33" y="346" width="1" height="6"/><rect x="592.36" y="340" width="1" height="13"/><rect x="593.87" y="351" width="1" height="6"/><rect x="596.89" y="348" width="1" height="17"/><rect x="598.41" y="360" width="1" height="12"/><rect x="599.92" y="372" width="1" height="8"/><rect x="607.48" y="370" width="1" height="6"/><rect x="610.5" y="370" width="1" height="4"/><rect x="612.01" y="371" width="1" height="5"/><rect x="613.52" y="373" width="1" height="4"/><rect x="615.04" y="376" width="1" height="8"/><rect x="616.55" y="381" width="1" height="6"/><rect x="618.06" y="383" width="1" height="8"/><rect x="621.08" y="390" width="1" height="8"/><rect x="622.6" y="397" width="1" height="6"/><rect x="624.11" y="400" width="1" height="9"/><rect x="627.13" y="403" width="1" height="17"/><rect x="640.74" y="345" width="1" height="7"/><rect x="642.25" y="348" width="1" height="9"/><rect x="643.76" y="355" width="1" height="11"/><rect x="651.32" y="340" width="1" height="6"/><rect x="652.83" y="341" width="1" height="8"/><rect x="654.35" y="342" width="1" height="7"/><rect x="655.86" y="343" width="1" height="5"/><rect x="658.88" y="338" width="1" height="6"/><rect x="663.42" y="318" width="1" height="15"/><rect x="666.44" y="296" width="1" height="12"/><rect x="669.46" y="302" width="1" height="12"/><rect x="672.49" y="309" width="1" height="13"/><rect x="675.51" y="315" width="1" height="6"/><rect x="678.54" y="319" width="1" height="9"/><rect x="680.05" y="328" width="1" height="5"/><rect x="684.58" y="328" width="1" height="3"/><rect x="686.1" y="331" width="1" height="8"/><rect x="687.61" y="338" width="1" height="3"/><rect x="690.63" y="340" width="1" height="5"/><rect x="692.14" y="342" width="1" height="6"/><rect x="693.65" y="347" width="1" height="9"/><rect x="695.17" y="355" width="1" height="14"/><rect x="702.73" y="343" width="1" height="9"/><rect x="704.24" y="344" width="1" height="18"/><rect x="705.75" y="349" width="1" height="9"/><rect x="707.26" y="355" width="1" height="5"/><rect x="710.29" y="354" width="1" height="8"/><rect x="711.8" y="361" width="1" height="10"/><rect x="716.33" y="357" width="1" height="7"/><rect x="734.48" y="319" width="1" height="5"/><rect x="735.99" y="322" width="1" height="4"/><rect x="737.5" y="324" width="1" height="6"/><rect x="739.01" y="329" width="1" height="10"/><rect x="740.52" y="339" width="1" height="17"/><rect x="743.55" y="338" width="1" height="13"/><rect x="746.57" y="331" width="1" height="16"/><rect x="751.11" y="336" width="1" height="15"/><rect x="755.64" y="335" width="1" height="5"/><rect x="763.2" y="311" width="1" height="13"/><rect x="764.71" y="321" width="1" height="14"/><rect x="770.76" y="315" width="1" height="5"/><rect x="772.27" y="318" width="1" height="13"/><rect x="773.79" y="327" width="1" height="5"/><rect x="778.32" y="328" width="1" height="6"/><rect x="781.35" y="332" width="1" height="2"/><rect x="782.86" y="334" width="1" height="11"/><rect x="784.37" y="344" width="1" height="14"/><rect x="785.88" y="355" width="1" height="7"/><rect x="788.9" y="363" width="1" height="7"/><rect x="790.42" y="365" width="1" height="5"/><rect x="791.93" y="367" width="1" height="9"/><rect x="793.44" y="369" width="1" height="5"/><rect x="794.95" y="367" width="1" height="7"/><rect x="799.49" y="363" width="1" height="3"/><rect x="801.0" y="362" width="1" height="8"/><rect x="807.05" y="356" width="1" height="5"/><rect x="808.56" y="358" width="1" height="4"/><rect x="811.58" y="356" width="1" height="3"/><rect x="814.61" y="348" width="1" height="10"/><rect x="816.12" y="357" width="1" height="13"/><rect x="822.17" y="352" width="1" height="7"/><rect x="825.19" y="350" width="1" height="2"/><rect x="832.75" y="328" width="1" height="16"/><rect x="837.29" y="336" width="1" height="4"/><rect x="838.8" y="331" width="1" height="9"/><rect x="840.31" y="339" width="1" height="5"/><rect x="843.33" y="342" width="1" height="4"/><rect x="844.84" y="344" width="1" height="4"/><rect x="847.87" y="344" width="1" height="6"/><rect x="849.38" y="349" width="1" height="6"/><rect x="850.89" y="351" width="1" height="3"/><rect x="853.92" y="349" width="1" height="23"/><rect x="856.94" y="360" width="1" height="6"/><rect x="859.96" y="360" width="1" height="4"/><rect x="864.5" y="360" width="1" height="10"/><rect x="867.52" y="365" width="1" height="29"/><rect x="872.06" y="367" width="1" height="14"/><rect x="876.59" y="363" width="1" height="8"/><rect x="882.64" y="360" width="1" height="10"/><rect x="887.18" y="357" width="1" height="10"/><rect x="891.71" y="354" width="1" height="4"/><rect x="893.23" y="358" width="1" height="6"/><rect x="894.74" y="361" width="1" height="9"/><rect x="896.25" y="367" width="1" height="4"/><rect x="897.76" y="370" width="1" height="18"/><rect x="900.79" y="381" width="1" height="7"/><rect x="902.3" y="386" width="1" height="5"/><rect x="903.81" y="389" width="1" height="5"/><rect x="905.32" y="392" width="1" height="7"/><rect x="906.83" y="396" width="1" height="8"/><rect x="911.37" y="382" width="1" height="3"/><rect x="912.88" y="383" width="1" height="4"/></g></g><line x1="14" x2="929" y1="386.5" y2="386.5" stroke="#f23645" stroke-opacity="0.65" stroke-width="1" stroke-dasharray="1 1.2"/><g font-family="Liberation Sans, sans-serif"><text x="14" y="27.4" font-size="16" fill="#dcdcdc" text-anchor="start" font-weight="normal" stroke="#dcdcdc" stroke-width="0.3" textLength="435" lengthAdjust="spacingAndGlyphs" >Created with TradingView.com, Jan 30, 2026 09:55 UTC</text><text x="25.4" y="64.5" font-size="16" fill="#c9c9c9" text-anchor="start" font-weight="normal" stroke="#c9c9c9" stroke-width="0.15" textLength="252" lengthAdjust="spacingAndGlyphs" >Bitcoin / U.S. Dollar · 1 · Bitstamp</text><text x="288" y="64.5" font-size="16" fill="#c9c9c9" text-anchor="start" font-weight="normal" stroke="#c9c9c9" stroke-width="0.15" >O</text><text x="300.3" y="64.5" font-size="16" fill="#f23645" text-anchor="start" font-weight="normal" stroke="#f23645" stroke-width="0.15" textLength="54" lengthAdjust="spacingAndGlyphs" >82,229</text><text x="364.7" y="64.5" font-size="16" fill="#c9c9c9" text-anchor="start" font-weight="normal" stroke="#c9c9c9" stroke-width="0.15" >H</text><text x="377" y="64.5" font-size="16" fill="#f23645" text-anchor="start" font-weight="normal" stroke="#f23645" stroke-width="0.15" textLength="53.5" lengthAdjust="spacingAndGlyphs" >82,229</text><text x="441.5" y="64.5" font-size="16" fill="#c9c9c9" text-anchor="start" font-weight="normal" stroke="#c9c9c9" stroke-width="0.15" >L</text><text x="451.4" y="64.5" font-size="16" fill="#f23645" text-anchor="start" font-weight="normal" stroke="#f23645" stroke-width="0.15" textLength="49.6" lengthAdjust="spacingAndGlyphs" >82,212</text><text x="512.4" y="64.5" font-size="16" fill="#c9c9c9" text-anchor="start" font-weight="normal" stroke="#c9c9c9" stroke-width="0.15" >C</text><text x="523.3" y="64.5" font-size="16" fill="#f23645" text-anchor="start" font-weight="normal" stroke="#f23645" stroke-width="0.15" textLength="50.7" lengthAdjust="spacingAndGlyphs" >82,212</text><text x="585.2" y="64.5" font-size="16" fill="#f23645" text-anchor="start" font-weight="normal" stroke="#f23645" stroke-width="0.15" textLength="24.4" lengthAdjust="spacingAndGlyphs" >−17</text><text x="617.8" y="64.5" font-size="16" fill="#f23645" text-anchor="start" font-weight="normal" stroke="#f23645" stroke-width="0.15" textLength="69" lengthAdjust="spacingAndGlyphs" >(−0.02%)</text><text x="24.9" y="88.1" font-size="16" fill="#c9c9c9" text-anchor="start" font-weight="normal" stroke="#c9c9c9" stroke-width="0.15" textLength="69.3" lengthAdjust="spacingAndGlyphs" >Vol · BTC</text><path d="M108.2 88.1 V79.4 Q107 80.4 105.1 80.6 V79 Q107.6 78.4 108.4 76.2 H110.1 V88.1 Z" fill="#ef5350"/><text x="996.3" y="70.5" font-size="16" fill="#c2c2c2" text-anchor="end" font-weight="normal" stroke="#c2c2c2" stroke-width="0.05" textLength="56.2" lengthAdjust="spacingAndGlyphs" >84,800</text><text x="996.3" y="120.0" font-size="16" fill="#c2c2c2" text-anchor="end" font-weight="normal" stroke="#c2c2c2" stroke-width="0.05" textLength="56.2" lengthAdjust="spacingAndGlyphs" >84,400</text><text x="996.3" y="169.5" font-size="16" fill="#c2c2c2" text-anchor="end" font-weight="normal" stroke="#c2c2c2" stroke-width="0.05" textLength="56.2" lengthAdjust="spacingAndGlyphs" >84,000</text><text x="996.3" y="219.0" font-size="16" fill="#c2c2c2" text-anchor="end" font-weight="normal" stroke="#c2c2c2" stroke-width="0.05" textLength="56.2" lengthAdjust="spacingAndGlyphs" >83,600</text><text x="996.3" y="268.5" font-size="16" fill="#c2c2c2" text-anchor="end" font-weight="normal" stroke="#c2c2c2" stroke-width="0.05" textLength="56.2" lengthAdjust="spacingAndGlyphs" >83,200</text><text x="996.3" y="318.0" font-size="16" fill="#c2c2c2" text-anchor="end" font-weight="normal" stroke="#c2c2c2" stroke-width="0.05" textLength="56.2" lengthAdjust="spacingAndGlyphs" >82,800</text><text x="996.3" y="367.5" font-size="16" fill="#c2c2c2" text-anchor="end" font-weight="normal" stroke="#c2c2c2" stroke-width="0.05" textLength="56.2" lengthAdjust="spacingAndGlyphs" >82,400</text><text x="996.3" y="417.0" font-size="16" fill="#c2c2c2" text-anchor="end" font-weight="normal" stroke="#c2c2c2" stroke-width="0.05" textLength="56.2" lengthAdjust="spacingAndGlyphs" >82,000</text><text x="996.3" y="466.5" font-size="16" fill="#c2c2c2" text-anchor="end" font-weight="normal" stroke="#c2c2c2" stroke-width="0.05" textLength="56.2" lengthAdjust="spacingAndGlyphs" >81,600</text><text x="996.3" y="516.0" font-size="16" fill="#c2c2c2" text-anchor="end" font-weight="normal" stroke="#c2c2c2" stroke-width="0.05" textLength="56.2" lengthAdjust="spacingAndGlyphs" >81,200</text><text x="996.3" y="565.5" font-size="16" fill="#c2c2c2" text-anchor="end" font-weight="normal" stroke="#c2c2c2" stroke-width="0.05" textLength="56.2" lengthAdjust="spacingAndGlyphs" >80,800</text><g clip-path="url(#taxis)"><text x="13.770000000000001" y="601.7" font-size="16" fill="#d6d6d6" text-anchor="middle" font-weight="bold" textLength="20.6" lengthAdjust="spacingAndGlyphs" >30</text><text x="104.2" y="601.7" font-size="16" fill="#c2c2c2" text-anchor="middle" font-weight="normal" stroke="#c2c2c2" stroke-width="0.05" textLength="43.7" lengthAdjust="spacingAndGlyphs" >01:00</text><text x="194.93" y="601.7" font-size="16" fill="#c2c2c2" text-anchor="middle" font-weight="normal" stroke="#c2c2c2" stroke-width="0.05" textLength="43.7" lengthAdjust="spacingAndGlyphs" >02:00</text><text x="285.66" y="601.7" font-size="16" fill="#c2c2c2" text-anchor="middle" font-weight="normal" stroke="#c2c2c2" stroke-width="0.05" textLength="43.7" lengthAdjust="spacingAndGlyphs" >03:00</text><text x="376.39000000000004" y="601.7" font-size="16" fill="#c2c2c2" text-anchor="middle" font-weight="normal" stroke="#c2c2c2" stroke-width="0.05" textLength="43.7" lengthAdjust="spacingAndGlyphs" >04:00</text><text x="467.12000000000006" y="601.7" font-size="16" fill="#c2c2c2" text-anchor="middle" font-weight="normal" stroke="#c2c2c2" stroke-width="0.05" textLength="43.7" lengthAdjust="spacingAndGlyphs" >05:00</text><text x="557.85" y="601.7" font-size="16" fill="#c2c2c2" text-anchor="middle" font-weight="normal" stroke="#c2c2c2" stroke-width="0.05" textLength="43.7" lengthAdjust="spacingAndGlyphs" >06:00</text><text x="648.58" y="601.7" font-size="16" fill="#c2c2c2" text-anchor="middle" font-weight="normal" stroke="#c2c2c2" stroke-width="0.05" textLength="43.7" lengthAdjust="spacingAndGlyphs" >07:00</text><text x="739.3100000000001" y="601.7" font-size="16" fill="#c2c2c2" text-anchor="middle" font-weight="normal" stroke="#c2c2c2" stroke-width="0.05" textLength="43.7" lengthAdjust="spacingAndGlyphs" >08:00</text><text x="830.0400000000001" y="601.7" font-size="16" fill="#c2c2c2" text-anchor="middle" font-weight="normal" stroke="#c2c2c2" stroke-width="0.05" textLength="43.7" lengthAdjust="spacingAndGlyphs" >09:00</text><text x="920.7700000000001" y="601.7" font-size="16" fill="#c2c2c2" text-anchor="middle" font-weight="normal" stroke="#c2c2c2" stroke-width="0.05" textLength="43.7" lengthAdjust="spacingAndGlyphs" >10:00</text></g></g><path d="M930 375 H1001 Q1004 375 1004 378 V395.8 Q1004 398.8 1001 398.8 H930 Z" fill="#f23645"/><text font-family="Liberation Sans, sans-serif" x="996.5" y="390.7" font-size="16" fill="#ffffff" text-anchor="end" font-weight="normal" stroke="#ffffff" stroke-width="0.15" textLength="55.3" lengthAdjust="spacingAndGlyphs" >82,212</text><path d="M930 553 H955 Q957.2 553 957.2 555.2 V573.8 Q957.2 576 955 576 H930 Z" fill="#ef5350"/><path d="M946 570.7 V561.7 Q945 562.5 943 562.6 V561.1 Q945.4 560.6 946.1 559 H947.6 V570.7 Z" fill="#ffffff"/><g fill="#d9d9d9"><path d="M16.2 644 H32.9 V664.5 H24.5 V652.2 H16.2 Z"/><circle cx="39.8" cy="647.9" r="4.1"/><path d="M48 644 H57.3 L49.4 664.5 H39.9 Z"/></g><g fill="#d9d9d9"><rect x="66.9" y="643.9" width="15" height="3.9"/><rect x="72.2" y="643.9" width="4.4" height="20.899999999999977"/><rect x="82" y="649.1" width="4.3" height="15.699999999999932"/><path d="M86 649.1 H90.9 V651.9 Q88 651.9 86.2 655.6 Z"/><circle cx="99.1" cy="656.95" r="5.9" fill="none" stroke="#d9d9d9" stroke-width="4.1"/><rect x="102.8" y="649.1" width="4.2" height="15.699999999999932"/><circle cx="117.2" cy="656.95" r="5.85" fill="none" stroke="#d9d9d9" stroke-width="4.1"/><rect x="120.9" y="643.9" width="4.2" height="20.899999999999977"/><circle cx="129.45" cy="645.6" r="2.55"/><rect x="127.3" y="649.1" width="4.3" height="15.699999999999932"/><path d="M136.1 664.8 V656 A4.7 4.7 0 0 1 145.5 656 V664.8" fill="none" stroke="#d9d9d9" stroke-width="4.4"/><circle cx="158.3" cy="656.95" r="5.75" fill="none" stroke="#d9d9d9" stroke-width="4.1"/><rect x="161.8" y="649.1" width="4.2" height="16.699999999999932"/><path d="M163.9 665 Q163.9 668.7 158.6 668.7 Q154.6 668.7 152.3 666.6" fill="none" stroke="#d9d9d9" stroke-width="4.1"/><path d="M165.3 643.9 H170.6 L175.6 659.6 L180.4 643.9 H185.8 L178.5 664.8 H172.7 Z"/><circle cx="189.75" cy="645.6" r="2.55"/><rect x="187.6" y="649.1" width="4.3" height="15.699999999999932"/><circle cx="201.95" cy="656.95" r="5.8" fill="none" stroke="#d9d9d9" stroke-width="4.1"/><rect x="197.5" y="655.1" width="12.2" height="3.4"/><rect x="205.2" y="658.5" width="5" height="3.1" fill="#202020"/><path d="M210.6 649.1 H215.4 L217.2 658.4 L219.1 649.1 H223.4 L225.8 658.4 L228.1 649.1 H232.9 L228.8 664.8 H223.7 L221.2 655.6 L218.7 664.8 H213.6 Z"/></g></svg></body></html>
